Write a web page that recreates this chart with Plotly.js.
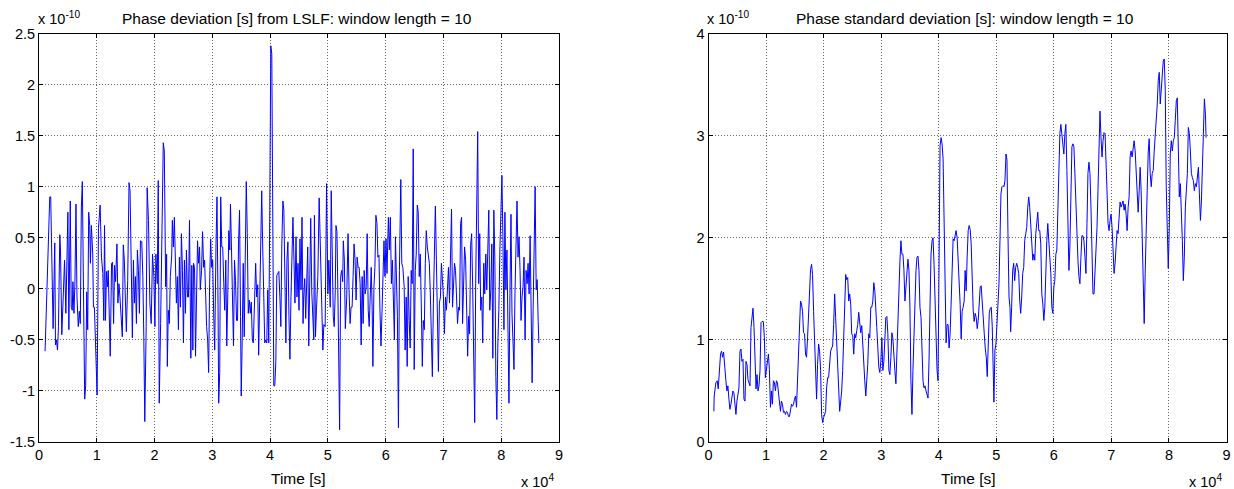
<!DOCTYPE html>
<html>
<head>
<meta charset="utf-8">
<script src="https://cdn.plot.ly/plotly-3.0.1.min.js"></script>
<style>html,body{margin:0;padding:0;background:#fff;}#chart{width:1234px;height:489px;}</style>
</head>
<body>
<div id="chart"></div>
<script>
// Left panel: phase deviation from LSLF (time in 1e4 s, value in 1e-10 s)
const leftTime = [0.105,0.186,0.203,0.233,0.244,0.273,0.285,0.302,0.320,0.337,0.360,0.372,0.395,0.419,0.442,0.465,0.483,0.500,0.517,0.541,0.558,0.576,0.587,0.605,0.622,0.640,0.657,0.680,0.698,0.715,0.733,0.750,0.773,0.791,0.808,0.826,0.843,0.860,0.878,0.890,0.907,0.930,0.942,0.959,1.006,1.029,1.058,1.081,1.105,1.122,1.134,1.151,1.169,1.186,1.198,1.215,1.233,1.256,1.273,1.291,1.308,1.326,1.349,1.366,1.384,1.401,1.424,1.442,1.459,1.477,1.494,1.512,1.535,1.558,1.576,1.599,1.616,1.634,1.651,1.669,1.686,1.703,1.721,1.738,1.756,1.779,1.797,1.814,1.831,1.855,1.872,1.895,1.919,1.942,1.965,1.988,2.006,2.023,2.047,2.064,2.081,2.105,2.128,2.151,2.169,2.192,2.209,2.221,2.238,2.256,2.273,2.297,2.308,2.326,2.343,2.360,2.378,2.395,2.413,2.430,2.448,2.465,2.483,2.500,2.517,2.535,2.552,2.570,2.587,2.605,2.628,2.645,2.663,2.674,2.692,2.709,2.727,2.744,2.762,2.779,2.791,2.814,2.831,2.849,2.866,2.884,2.901,2.919,2.936,2.953,2.971,2.988,3.006,3.023,3.041,3.064,3.081,3.099,3.110,3.128,3.145,3.163,3.180,3.198,3.215,3.233,3.250,3.267,3.285,3.302,3.314,3.331,3.349,3.366,3.384,3.401,3.419,3.436,3.453,3.471,3.488,3.500,3.517,3.535,3.552,3.570,3.587,3.605,3.622,3.640,3.657,3.674,3.692,3.709,3.727,3.750,3.767,3.785,3.802,3.820,3.837,3.855,3.872,3.890,3.907,3.924,3.942,3.959,3.977,3.994,4.012,4.029,4.047,4.064,4.081,4.099,4.116,4.134,4.151,4.169,4.186,4.203,4.221,4.238,4.256,4.273,4.291,4.308,4.326,4.343,4.360,4.378,4.395,4.413,4.430,4.448,4.465,4.483,4.500,4.517,4.535,4.552,4.570,
4.581,4.599,4.616,4.634,4.651,4.669,4.686,4.703,4.721,4.738,4.756,4.767,4.785,4.802,4.826,4.849,4.872,4.895,4.913,4.930,4.953,4.977,5.000,5.017,5.041,5.058,5.076,5.093,5.110,5.128,5.140,5.157,5.174,5.186,5.203,5.221,5.238,5.256,5.267,5.285,5.302,5.326,5.349,5.366,5.384,5.401,5.419,5.436,5.453,5.471,5.488,5.506,5.523,5.541,5.558,5.576,5.593,5.610,5.628,5.645,5.663,5.680,5.698,5.715,5.733,5.750,5.767,5.779,5.797,5.814,5.831,5.849,5.866,5.884,5.901,5.919,5.936,5.953,5.971,5.988,6.006,6.023,6.047,6.064,6.081,6.099,6.116,6.134,6.151,6.169,6.186,6.203,6.221,6.238,6.262,6.279,6.297,6.320,6.337,6.355,6.372,6.390,6.407,6.424,6.442,6.459,6.477,6.494,6.512,6.529,6.547,6.564,6.581,6.599,6.616,6.634,6.651,6.669,6.686,6.703,6.721,6.738,6.756,6.773,6.791,6.808,6.826,6.843,6.860,6.878,6.895,6.913,6.930,6.948,6.965,6.983,7.000,7.017,7.035,7.052,7.070,7.087,7.105,7.122,7.140,7.157,7.174,7.192,7.209,7.227,7.244,7.262,7.279,7.297,7.314,7.331,7.349,7.366,7.384,7.401,7.419,7.436,7.453,7.471,7.488,7.506,7.523,7.541,7.558,7.576,7.593,7.610,7.628,7.645,7.663,7.680,7.698,7.715,7.733,7.750,7.767,7.785,7.802,7.820,7.837,7.855,7.872,7.890,7.907,7.924,7.942,7.959,7.977,7.994,8.012,8.029,8.047,8.064,8.081,8.099,8.116,8.134,8.151,8.169,8.186,8.203,8.221,8.238,8.256,8.273,8.291,8.308,8.326,8.343,8.360,8.378,8.395,8.413,8.430,8.448,8.465,8.483,8.500,8.517,8.535,8.552,8.570,8.587,8.605,8.622,8.640,8.651];
const leftPhase = [-0.61,0.90,0.90,-0.11,-0.39,0.45,-0.55,-0.50,-0.60,-0.37,0.53,0.38,-0.45,-0.08,0.28,-0.24,0.49,0.75,-0.40,0.86,-0.18,-0.21,0.07,-0.24,0.07,0.83,-0.08,-0.37,-0.22,-0.34,0.80,1.05,-0.18,-1.08,-0.95,-0.03,-0.40,0.75,0.62,0.25,0.62,0.34,-0.18,-0.18,-1.04,0.59,0.82,0.31,0.15,-0.31,0.62,-0.31,0.17,0.02,0.18,-0.37,-0.66,0.25,0.26,-0.34,0.23,0.07,0.44,-0.14,0.05,-0.08,-0.37,-0.47,0.43,0.28,-0.08,-0.42,0.08,1.04,0.96,0.12,-0.48,0.28,-0.14,0.12,-0.34,0.38,0.18,-0.24,0.47,0.46,0.12,-0.47,-1.30,-0.37,0.99,0.67,-0.14,-0.34,0.34,0.12,-0.37,0.34,0.05,1.06,-1.12,-0.34,0.77,1.43,1.35,0.02,0.34,-0.76,-0.21,-0.34,0.12,0.33,0.67,0.41,0.70,0.38,-0.14,0.12,-0.40,0.31,-0.18,0.54,0.18,-0.53,0.28,-0.24,0.38,-0.08,-0.08,0.67,-0.68,0.23,-0.60,0.25,0.21,-0.66,-0.18,0.47,0.25,0.41,-0.01,0.18,0.56,0.21,0.28,-0.14,-0.37,-0.50,-0.82,0.05,0.49,0.21,0.28,-0.24,-0.60,0.44,0.90,-0.18,-1.12,-0.82,0.90,0.41,0.41,0.05,-0.21,0.28,-0.56,-0.08,0.57,0.38,0.83,0.41,-0.18,-0.56,0.28,0.08,-0.31,-0.31,0.44,0.77,-0.27,-1.05,-0.50,0.25,-0.47,0.51,1.05,0.54,-0.24,-0.11,-0.24,-0.13,-0.50,-0.53,-0.11,0.25,-0.08,0.04,-0.65,0.05,0.56,0.96,0.41,-0.21,-0.53,-0.50,-0.53,-0.01,-0.53,0.77,2.38,2.30,0.77,-0.95,-0.95,-0.71,0.13,0.15,0.17,-0.08,-0.37,0.44,0.86,0.77,0.12,-0.53,0.28,0.46,-0.27,-0.69,-0.11,0.21,0.70,0.28,-0.14,0.51,-0.08,0.25,-0.21,0.49,-0.01,0.70,-0.34,
-0.08,0.10,-0.29,0.25,0.41,-0.56,0.07,0.69,-0.03,-0.21,-0.50,0.72,-0.47,-0.21,0.12,0.89,0.38,-0.21,-0.60,-0.35,-0.37,1.03,-0.05,0.28,-0.18,0.96,0.08,-0.27,-0.37,-0.01,0.62,0.56,-0.08,-1.02,-1.38,0.12,0.18,0.07,0.47,0.28,-0.39,-0.08,0.54,-0.01,-0.34,-0.18,-0.18,0.12,0.44,0.28,-0.11,0.31,0.21,0.21,0.05,-0.55,0.12,-0.34,0.18,-0.05,0.02,0.54,-0.21,-0.37,0.05,0.21,-0.21,-0.76,0.02,0.21,0.72,0.64,0.31,0.33,-0.21,-0.56,-0.24,0.21,0.47,0.12,0.49,0.15,0.70,0.38,0.70,0.05,0.28,-0.11,-0.50,0.51,0.05,-0.27,-1.36,0.18,1.07,0.25,0.21,0.02,-0.60,-0.08,-0.76,0.12,-0.31,-0.58,0.18,0.05,1.37,-0.79,0.18,0.34,0.82,0.75,0.12,0.34,-0.14,-0.76,-0.31,-0.40,0.25,0.57,0.41,0.31,0.25,-0.05,-0.37,-0.86,-0.14,0.47,0.81,0.28,-0.37,-0.81,-0.14,-0.08,0.25,0.12,-0.08,-0.44,-0.08,-0.21,0.12,0.21,-0.14,0.25,0.78,-0.18,-0.01,0.25,0.18,-0.21,-0.34,-0.18,-0.21,0.64,0.70,-0.34,0.18,0.41,0.28,-0.21,-0.66,-0.27,-0.44,0.43,0.54,0.02,-0.79,-1.31,0.05,0.77,1.54,0.05,0.54,-0.21,-0.08,-0.53,0.25,-0.05,0.34,-0.01,0.30,0.77,-0.21,-0.01,0.44,-0.68,0.77,0.28,-0.86,-1.28,-0.53,-0.21,0.38,0.85,1.11,0.51,-0.40,0.75,-0.01,0.38,-0.34,-1.12,-0.05,0.73,-0.24,-0.56,-0.79,-0.05,0.34,0.86,0.31,0.51,0.18,-0.31,-0.08,0.02,0.31,-0.50,0.18,0.05,0.25,-0.05,0.52,-0.37,-0.92,-0.21,0.25,1.00,-0.01,0.09,-0.32,-0.53];

// Right panel: phase standard deviation (time in 1e4 s, value in 1e-10 s)
const rightTime = [0.093,0.099,0.128,0.151,0.169,0.186,0.209,0.227,0.244,0.262,0.279,0.302,0.320,0.337,0.355,0.372,0.390,0.407,0.424,0.442,0.459,0.477,0.494,0.512,0.529,0.547,0.564,0.581,0.599,0.616,0.634,0.651,0.669,0.686,0.703,0.721,0.738,0.756,0.773,0.791,0.808,0.826,0.843,0.860,0.878,0.895,0.913,0.930,0.953,0.971,0.988,1.006,1.023,1.041,1.058,1.076,1.093,1.110,1.128,1.145,1.163,1.180,1.198,1.215,1.233,1.250,1.267,1.285,1.302,1.320,1.337,1.355,1.372,1.390,1.407,1.424,1.442,1.459,1.477,1.494,1.512,1.529,1.547,1.564,1.581,1.599,1.616,1.634,1.651,1.669,1.686,1.703,1.721,1.738,1.756,1.773,1.791,1.808,1.826,1.843,1.860,1.878,1.895,1.913,1.930,1.948,1.965,1.983,2.000,2.017,2.035,2.052,2.070,2.087,2.105,2.122,2.140,2.157,2.174,2.192,2.209,2.227,2.244,2.262,2.279,2.297,2.314,2.331,2.349,2.366,2.384,2.401,2.419,2.436,2.453,2.471,2.488,2.506,2.523,2.541,2.558,2.576,2.593,2.610,2.628,2.645,2.663,2.680,2.698,2.715,2.733,2.750,2.767,2.785,2.802,2.820,2.837,2.855,2.872,2.890,2.907,2.924,2.942,2.959,2.977,2.994,3.012,3.029,3.047,3.064,3.081,3.099,3.116,3.134,3.151,3.169,3.186,3.203,3.221,3.238,3.256,3.273,3.291,3.308,3.326,3.343,3.360,3.378,3.395,3.413,3.430,3.448,3.465,3.483,3.500,3.517,3.535,3.552,3.570,3.587,3.605,3.622,3.640,3.657,3.674,3.692,3.709,3.727,3.744,3.762,3.779,3.797,3.814,3.831,3.849,3.866,3.884,3.901,3.919,3.936,3.953,3.971,3.988,4.006,4.023,4.041,4.058,4.076,4.093,4.110,4.128,4.145,4.163,4.180,4.198,4.215,4.233,4.250,4.267,4.285,4.302,4.320,4.337,4.355,4.372,4.390,4.407,4.424,4.442,4.459,4.477,4.494,4.512,4.529,4.547,4.564,4.581,
4.599,4.616,4.634,4.651,4.669,4.686,4.703,4.721,4.738,4.756,4.773,4.791,4.808,4.826,4.843,4.860,4.878,4.895,4.913,4.930,4.948,4.959,4.977,4.994,5.012,5.029,5.047,5.064,5.081,5.099,5.116,5.134,5.151,5.169,5.186,5.203,5.221,5.238,5.250,5.267,5.285,5.302,5.320,5.337,5.355,5.372,5.390,5.407,5.424,5.442,5.459,5.477,5.494,5.512,5.529,5.547,5.564,5.581,5.599,5.616,5.634,5.651,5.669,5.686,5.703,5.721,5.738,5.756,5.773,5.791,5.808,5.826,5.843,5.860,5.878,5.895,5.913,5.930,5.948,5.965,5.983,6.000,6.017,6.035,6.052,6.070,6.087,6.105,6.122,6.140,6.157,6.174,6.192,6.209,6.227,6.244,6.262,6.279,6.297,6.314,6.331,6.349,6.366,6.384,6.401,6.419,6.436,6.453,6.471,6.488,6.506,6.523,6.541,6.558,6.576,6.593,6.610,6.628,6.645,6.663,6.680,6.698,6.715,6.733,6.750,6.767,6.785,6.802,6.820,6.837,6.855,6.872,6.890,6.907,6.924,6.942,6.959,6.977,6.994,7.012,7.029,7.047,7.064,7.081,7.099,7.116,7.134,7.151,7.169,7.186,7.203,7.221,7.238,7.256,7.273,7.291,7.308,7.326,7.343,7.360,7.378,7.395,7.413,7.430,7.448,7.465,7.483,7.500,7.517,7.535,7.552,7.570,7.587,7.605,7.622,7.640,7.657,7.674,7.692,7.709,7.727,7.744,7.762,7.779,7.797,7.814,7.831,7.849,7.866,7.884,7.901,7.919,7.936,7.953,7.971,7.988,8.006,8.023,8.041,8.058,8.076,8.093,8.110,8.128,8.145,8.163,8.180,8.198,8.215,8.233,8.250,8.267,8.285,8.302,8.320,8.337,8.355,8.372,8.390,8.407,8.424,8.442,8.459,8.477,8.494,8.512,8.529,8.547,8.564,8.581,8.599,8.616,8.634,8.645];
const rightStd = [0.30,0.45,0.58,0.60,0.52,0.65,0.86,0.89,0.83,0.88,0.73,0.60,0.50,0.55,0.42,0.32,0.37,0.43,0.50,0.48,0.37,0.27,0.40,0.50,0.53,0.89,0.91,0.79,0.81,0.42,0.40,0.79,0.76,0.61,0.57,0.55,1.12,1.20,1.31,1.12,0.70,0.52,0.66,0.50,0.55,0.70,1.17,1.18,1.18,1.02,0.63,0.73,0.83,0.86,0.71,0.34,0.50,0.37,0.60,0.58,0.50,0.60,0.58,0.48,0.40,0.30,0.40,0.37,0.29,0.30,0.27,0.30,0.29,0.25,0.25,0.34,0.37,0.35,0.37,0.42,0.45,0.34,0.63,0.92,1.27,1.38,1.35,1.28,1.07,1.06,0.86,0.83,1.02,1.28,1.51,1.69,1.74,1.64,1.28,0.92,0.63,0.42,0.76,0.96,0.89,0.70,0.27,0.19,0.24,0.27,0.30,0.53,0.63,0.63,0.84,0.89,0.92,0.94,1.15,1.45,1.22,0.96,0.70,0.43,0.30,0.40,0.50,0.70,1.09,1.48,1.64,1.59,1.61,1.38,1.45,1.35,1.06,1.04,0.86,1.06,1.02,1.09,1.15,1.27,1.12,1.07,1.14,0.92,0.66,0.60,0.45,0.57,0.76,1.06,1.02,1.32,1.32,1.38,1.56,1.48,1.35,1.12,0.92,0.73,0.68,0.79,1.02,0.70,0.79,0.99,1.22,1.23,1.06,0.70,0.66,0.83,1.07,1.02,0.79,0.70,0.57,0.92,1.15,1.42,1.77,1.97,1.84,1.84,1.69,1.38,1.55,1.71,1.79,1.68,1.32,0.60,0.27,0.70,1.06,1.48,1.68,1.81,1.82,1.68,1.32,1.22,0.83,0.60,0.53,0.55,0.50,0.47,0.43,0.79,1.42,1.84,1.97,2.00,1.74,1.35,0.96,0.70,0.60,1.74,2.90,2.98,2.92,2.77,2.26,1.68,0.97,1.15,1.15,0.92,1.06,1.35,1.64,1.99,1.97,2.02,2.07,2.00,1.81,1.61,1.35,1.01,1.28,1.32,1.38,1.68,1.48,1.81,2.07,2.12,2.08,1.94,1.55,
1.29,1.18,1.26,1.22,1.11,1.19,1.32,1.52,1.53,1.32,1.22,1.06,0.92,0.83,0.64,0.90,1.26,1.31,1.32,1.13,0.67,0.39,0.90,0.96,1.16,1.39,1.55,1.97,2.43,2.50,2.51,2.50,2.56,2.82,2.76,2.04,1.42,1.32,1.08,1.32,1.68,1.75,1.58,1.71,1.75,1.71,1.65,1.39,1.26,1.42,1.65,1.71,1.97,2.04,2.10,2.30,2.40,2.30,2.10,1.97,1.78,1.84,1.78,2.04,2.20,2.25,2.07,2.07,1.94,1.45,1.36,1.19,1.32,1.68,1.97,2.14,2.01,1.81,1.65,1.32,1.26,1.52,1.58,1.84,1.88,2.30,2.76,3.02,3.11,3.02,2.89,2.82,3.02,3.11,2.66,2.20,1.68,1.91,2.43,2.89,2.92,2.89,2.63,2.30,1.97,1.78,1.62,1.55,1.81,2.02,2.02,1.97,1.81,1.65,2.14,2.63,2.74,2.63,2.30,1.91,1.45,1.45,1.68,1.78,2.10,2.46,2.85,3.24,2.98,2.79,2.95,3.03,3.02,2.79,2.46,2.14,2.07,2.17,2.23,2.10,1.81,1.65,1.75,1.94,2.07,2.04,2.27,2.35,2.30,2.33,2.36,2.27,2.33,2.23,2.07,2.30,2.40,2.80,2.85,2.79,2.85,2.95,2.85,2.69,2.46,2.25,2.46,2.69,2.46,1.97,1.49,1.16,1.65,2.30,2.46,2.84,2.97,2.63,2.50,2.63,2.66,2.85,2.98,3.11,3.31,3.54,3.62,3.31,3.47,3.60,3.73,3.75,3.44,2.50,1.97,1.70,2.10,2.82,2.95,2.85,2.95,2.98,3.15,3.34,3.37,2.95,2.40,2.53,2.30,1.97,1.58,1.81,2.30,2.50,2.63,3.08,3.02,2.85,2.63,2.59,2.56,2.46,2.53,2.50,2.59,2.69,2.43,2.17,2.36,2.69,3.08,3.36,3.21,2.98];

const xTickVals = [0,1,2,3,4,5,6,7,8,9];
const xTickText = ['0','1','2','3','4','5','6','7','8','9'];
const leftYVals = [-1.5,-1,-0.5,0,0.5,1,1.5,2,2.5];
const leftYText = ['-1.5','-1','-0.5','0','0.5','1','1.5','2','2.5'];
const rightYVals = [0,1,2,3,4];
const rightYText = ['0','1','2','3','4'];

const titleLeft = 'Phase deviation [s] from LSLF: window length = 10';
const titleRight = 'Phase standard deviation [s]: window length = 10';
const xLabel = 'Time [s]';

const W = 1234, H = 489;
const FAM = 'Liberation Sans, Arial, sans-serif';
const TICKFONT = {family: FAM, size: 14.5, color: '#000'};
const TEXTFONT = {family: FAM, size: 15.5, color: '#000'};

function axisBase(extra) {
  return Object.assign({
    showline: true, linecolor: '#000', linewidth: 1, mirror: 'ticks',
    ticks: 'inside', ticklen: 4, tickwidth: 1, tickcolor: '#000',
    showgrid: true, gridcolor: 'rgba(0,0,0,0.6)', griddash: '1px,2px', gridwidth: 1,
    zeroline: false, tickfont: TICKFONT, fixedrange: true, automargin: false
  }, extra);
}

const dL = [39/W, 559/W], dR = [708.5/W, 1226.5/W];
const dY = [(H-442)/H, (H-33.5)/H];

const data = [
  {x: leftTime, y: leftPhase, type: 'scatter', mode: 'lines', line: {color: '#0000ff', width: 1}, xaxis: 'x', yaxis: 'y', hoverinfo: 'skip'},
  {x: rightTime, y: rightStd, type: 'scatter', mode: 'lines', line: {color: '#0000ff', width: 1}, xaxis: 'x2', yaxis: 'y2', hoverinfo: 'skip'}
];

function pxX(p){return p/W;}
function pxY(p){return (H-p)/H;}

function note(text, x, y, font, xa) {
  return {text: text, x: pxX(x), y: pxY(y), xref: 'paper', yref: 'paper', showarrow: false,
          font: font, xanchor: xa, yanchor: 'middle', borderpad: 0};
}

const ann = [
  note(titleLeft, 297, 18, TEXTFONT, 'center'),
  note(titleRight, 965, 18, TEXTFONT, 'center'),
  note(xLabel, 298, 478, TEXTFONT, 'center'),
  note(xLabel, 968, 478, TEXTFONT, 'center'),
  note('x 10<sup>4</sup>', 520, 481, TICKFONT, 'left'),
  note('x 10<sup>4</sup>', 1188, 481, TICKFONT, 'left'),
  note('x 10<sup>-10</sup>', 37, 18, TICKFONT, 'left'),
  note('x 10<sup>-10</sup>', 706, 18, TICKFONT, 'left')
];

const layout = {
  width: W, height: H,
  margin: {l: 0, r: 0, t: 0, b: 0},
  paper_bgcolor: '#fff', plot_bgcolor: '#fff',
  showlegend: false,
  font: TICKFONT,
  xaxis: axisBase({domain: dL, range: [0, 9], tickvals: xTickVals, ticktext: xTickText, anchor: 'y'}),
  yaxis: axisBase({domain: dY, range: [-1.5, 2.5], tickvals: leftYVals, ticktext: leftYText, anchor: 'x'}),
  xaxis2: axisBase({domain: dR, range: [0, 9], tickvals: xTickVals, ticktext: xTickText, anchor: 'y2'}),
  yaxis2: axisBase({domain: dY, range: [0, 4], tickvals: rightYVals, ticktext: rightYText, anchor: 'x2'}),
  annotations: ann
};

Plotly.newPlot('chart', data, layout, {displayModeBar: false});
</script>
</body>
</html>
